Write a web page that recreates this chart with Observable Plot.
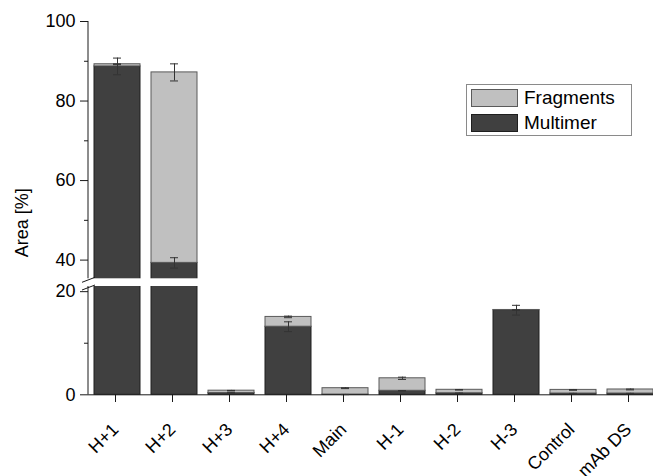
<!DOCTYPE html>
<html>
<head>
<meta charset="utf-8">
<script src="https://cdn.jsdelivr.net/npm/d3@7"></script>
<script src="https://cdn.jsdelivr.net/npm/@observablehq/plot@0.6"></script>
<style>
  body { margin: 0; background: #fff; }
  #chart svg { font-family: "Liberation Sans", Arial, sans-serif; display: block; }
</style>
</head>
<body>
<div id="chart"></div>
<script>
// Samples along the x axis
const samples = ["H+1", "H+2", "H+3", "H+4", "Main", "H-1", "H-2", "H-3", "Control", "mAb DS"];
// Peak area (%) per species, stacked: multimer at the bottom, fragments on top
const multimer     = [88.7, 39.3, 0.35, 13.2, 0.05, 0.78, 0.30, 16.4, 0.25, 0.25];
const multimerErr  = [2.1,  1.3,  0.05, 0.95, 0.02, 0.05, 0.03, 0.95, 0.03, 0.03];
const fragments    = [0.55, 47.9, 0.45, 1.9,  1.23, 2.42, 0.67, 0.05, 0.70, 0.78];
const fragmentsErr = [0.1,  2.15, 0.05, 0.15, 0.08, 0.22, 0.06, 0.05, 0.08, 0.08];
const seriesNames = ["Fragments", "Multimer"];
const seriesColors = ["#c0c0c0", "#404040"];
// y axis ticks (labelled and unlabelled)
const majorTicks = [0, 20, 40, 60, 80, 100];
const minorTicks = [10, 50, 70, 90];
const yLabel = "Area [%]";
// the y axis is broken between these two values
const breakLow = 21;
const breakHigh = 35.3;

const multimerBars = samples.map((s, i) => ({sample: s, y1: 0, y2: multimer[i]}));
const fragmentBars = samples.map((s, i) => ({sample: s, y1: multimer[i], y2: multimer[i] + fragments[i]}));
const errors = samples.flatMap((s, i) => [
  {sample: s, lo: multimer[i] - multimerErr[i], hi: multimer[i] + multimerErr[i]},
  {sample: s, lo: multimer[i] + fragments[i] - fragmentsErr[i], hi: multimer[i] + fragments[i] + fragmentsErr[i]}
]);

const axisColor = "#1a1a1a";

// y axis line with the "//" break symbol, plus the rotated axis title
function brokenAxis(index, scales, values, dims) {
  const y = scales.y;
  const x0 = dims.marginLeft;
  const g = d3.create("svg:g");
  const lines = g.append("g").attr("stroke", axisColor).attr("fill", "none").attr("stroke-width", 1);
  lines.append("line").attr("x1", x0).attr("x2", x0).attr("y1", y(100)).attr("y2", y(breakHigh));
  lines.append("line").attr("x1", x0).attr("x2", x0).attr("y1", y(breakLow)).attr("y2", y(0));
  for (const yy of [y(breakHigh) + 1.5, y(breakLow) + 1.5]) {
    lines.append("line")
      .attr("x1", x0 - 6).attr("y1", yy + 2.5)
      .attr("x2", x0 + 7).attr("y2", yy - 2.5);
  }
  const midY = (y(0) + y(100)) / 2 + 15;
  g.append("text")
    .attr("transform", `translate(${x0 - 66},${midY}) rotate(-90)`)
    .attr("text-anchor", "middle")
    .attr("dy", "0.35em")
    .style("font-size", "18px")
    .attr("fill", "#000")
    .text(yLabel);
  return g.node();
}

// boxed legend in the upper right
function legendBox() {
  const g = d3.create("svg:g");
  g.append("rect").attr("x", 466.5).attr("y", 84.5).attr("width", 165).attr("height", 51)
    .attr("fill", "#fff").attr("stroke", "#8a8a8a");
  const strokes = ["#5a5a5a", "#1e1e1e"];
  seriesNames.forEach((name, i) => {
    const top = 89.5 + i * 25;
    g.append("rect").attr("x", 471.5).attr("y", top).attr("width", 46).attr("height", 17)
      .attr("fill", seriesColors[i]).attr("stroke", strokes[i]);
    g.append("text").attr("x", 524).attr("y", top + 14.5)
      .attr("text-anchor", "start")
      .style("font-size", "19px").attr("fill", "#000").text(name);
  });
  return g.node();
}

const chart = Plot.plot({
  width: 653,
  height: 476,
  marginLeft: 88,
  marginRight: 0,
  marginTop: 21,
  marginBottom: 82,
  style: {fontFamily: "Liberation Sans, Arial, sans-serif", fontSize: "18px", color: "#000", background: "#fff"},
  x: {type: "band", domain: samples, range: [87.5, 658.7], paddingInner: 0.2, paddingOuter: 0.1},
  y: {type: "linear", domain: [0, breakLow, breakHigh, 100], range: [394.3, 286, 278.3, 21]},
  marks: [
    Plot.barY(multimerBars, {x: "sample", y1: "y1", y2: "y2", fill: seriesColors[1], stroke: "#1e1e1e", strokeWidth: 1}),
    Plot.barY(fragmentBars, {x: "sample", y1: "y1", y2: "y2", fill: seriesColors[0], stroke: "#5a5a5a", strokeWidth: 1}),
    // white gap where the axis is broken
    Plot.rect([null], {y1: breakLow, y2: breakHigh, fill: "#fff"}),
    Plot.ruleY([0], {stroke: axisColor}),
    Plot.ruleX(errors, {x: "sample", y1: "lo", y2: "hi", stroke: "#333", strokeWidth: 1}),
    Plot.tickY(errors, {x: "sample", y: "lo", stroke: "#333", inset: 19}),
    Plot.tickY(errors, {x: "sample", y: "hi", stroke: "#333", inset: 19}),
    Plot.axisY({ticks: majorTicks, tickSize: 8, tickPadding: 5, fontSize: 18, label: null, stroke: axisColor}),
    Plot.axisY({ticks: minorTicks, tickSize: 4, tickFormat: () => "", label: null, stroke: axisColor}),
    Plot.axisX({tickSize: 8, tickRotate: -45, tickPadding: 24, dx: -2, fontSize: 18, label: null, stroke: axisColor}),
    brokenAxis,
    legendBox
  ]
});

document.getElementById("chart").append(chart);
</script>
</body>
</html>
